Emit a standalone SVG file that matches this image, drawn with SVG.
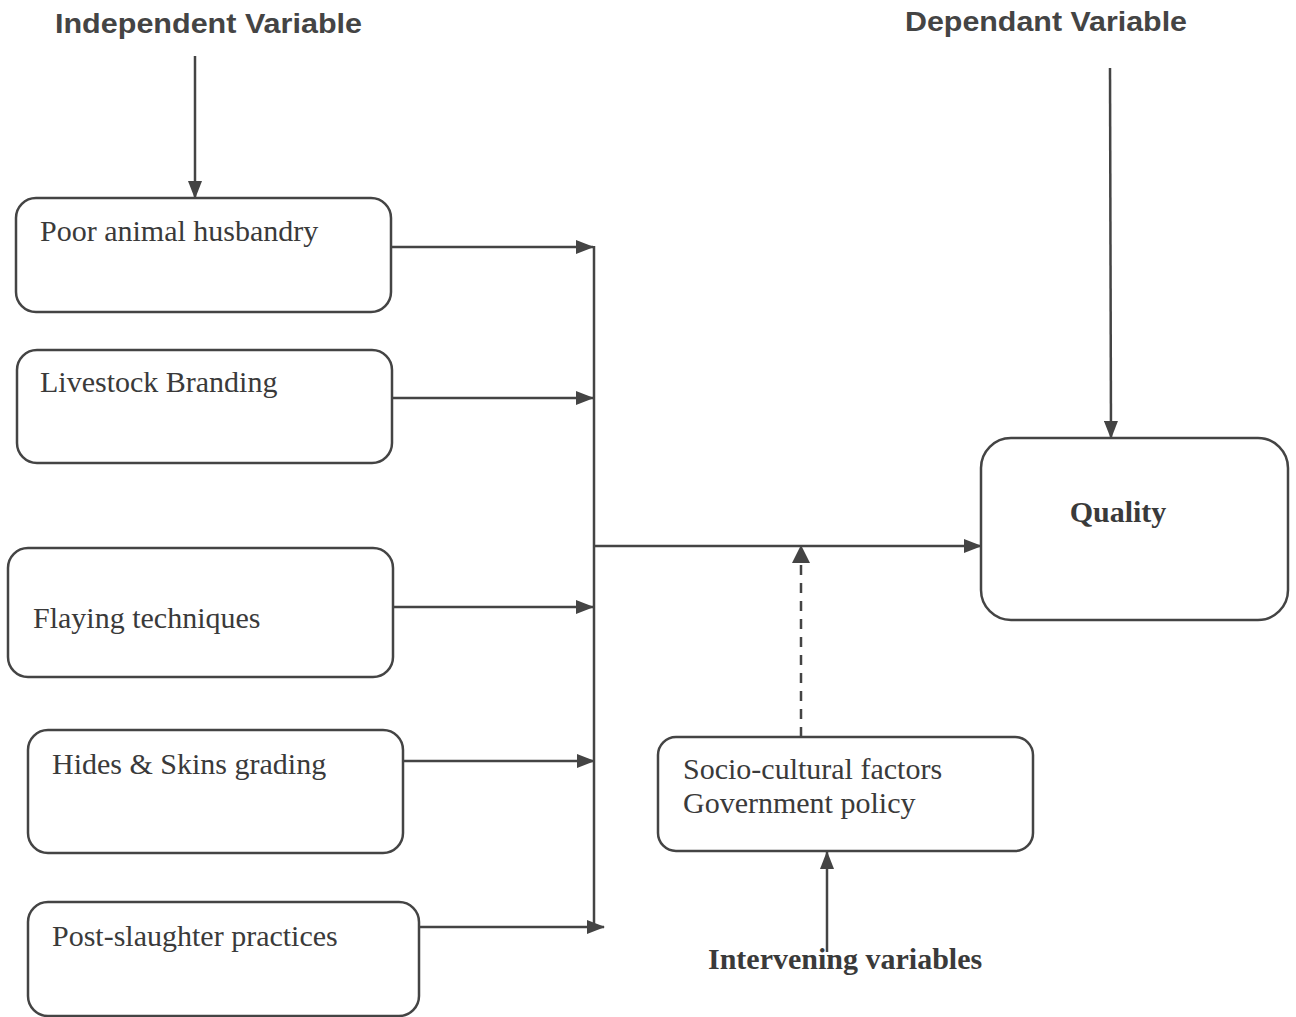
<svg xmlns="http://www.w3.org/2000/svg" width="1296" height="1017" viewBox="0 0 1296 1017">
<defs>
<marker id="ah" markerWidth="18" markerHeight="14" refX="17" refY="7" orient="auto" markerUnits="userSpaceOnUse">
<path d="M0,0 L18,7 L0,14 Z" fill="#444"/>
</marker>
</defs>
<style>
.box{fill:#fff;stroke:#444;stroke-width:2.5}
.lbl{font-family:"Liberation Serif","Times New Roman",serif;font-size:30px;fill:#3a3a3a}
.bold{font-weight:bold}
.title{font-family:"Liberation Sans",Arial,sans-serif;font-weight:bold;font-size:28px;fill:#444}
.ln{stroke:#444;stroke-width:2.5;fill:none}
.dash{stroke-dasharray:10,8}
</style>
<rect width="1296" height="1017" fill="#fff"/>
<text class="title" x="55" y="33" textLength="307" lengthAdjust="spacingAndGlyphs">Independent Variable</text>
<text class="title" x="905" y="31" textLength="282" lengthAdjust="spacingAndGlyphs">Dependant Variable</text>
<g id="connectors">
<line class="ln" x1="195" y1="56" x2="195" y2="198" marker-end="url(#ah)"/>
<line class="ln" x1="1110" y1="68" x2="1111" y2="438" marker-end="url(#ah)"/>
<line class="ln" x1="391" y1="247" x2="593" y2="247" marker-end="url(#ah)"/>
<line class="ln" x1="392" y1="398" x2="593" y2="398" marker-end="url(#ah)"/>
<line class="ln" x1="393" y1="607" x2="593" y2="607" marker-end="url(#ah)"/>
<line class="ln" x1="403" y1="761" x2="594" y2="761" marker-end="url(#ah)"/>
<line class="ln" x1="419" y1="927" x2="604" y2="927" marker-end="url(#ah)"/>
<line class="ln" x1="594" y1="246" x2="594" y2="930"/>
<line class="ln" x1="594" y1="546" x2="981" y2="546" marker-end="url(#ah)"/>
<line class="ln dash" x1="801" y1="737" x2="801" y2="560"/>
<path d="M792,563 L801,545 L810,563 Z" fill="#444"/>
<line class="ln" x1="827" y1="952" x2="827" y2="852" marker-end="url(#ah)"/>
</g>
<g id="n1"><rect class="box" x="16" y="198" width="375" height="114" rx="20"/><text class="lbl" x="40" y="241">Poor animal husbandry</text></g>
<g id="n2"><rect class="box" x="17" y="350" width="375" height="113" rx="20"/><text class="lbl" x="40" y="392">Livestock Branding</text></g>
<g id="n3"><rect class="box" x="8" y="548" width="385" height="129" rx="20"/><text class="lbl" x="33" y="628">Flaying techniques</text></g>
<g id="n4"><rect class="box" x="28" y="730" width="375" height="123" rx="20"/><text class="lbl" x="52" y="774">Hides &amp; Skins grading</text></g>
<g id="n5"><rect class="box" x="28" y="902" width="391" height="114" rx="20"/><text class="lbl" x="52" y="946">Post-slaughter practices</text></g>
<g id="n6"><rect class="box" x="981" y="438" width="307" height="182" rx="30"/><text class="lbl bold" x="1118" y="522" text-anchor="middle">Quality</text></g>
<g id="n7"><rect class="box" x="658" y="737" width="375" height="114" rx="18"/><text class="lbl" x="683" y="779">Socio-cultural factors</text><text class="lbl" x="683" y="813">Government policy</text></g>
<g id="n8"><text class="lbl bold" x="708" y="969">Intervening variables</text></g>
</svg>
